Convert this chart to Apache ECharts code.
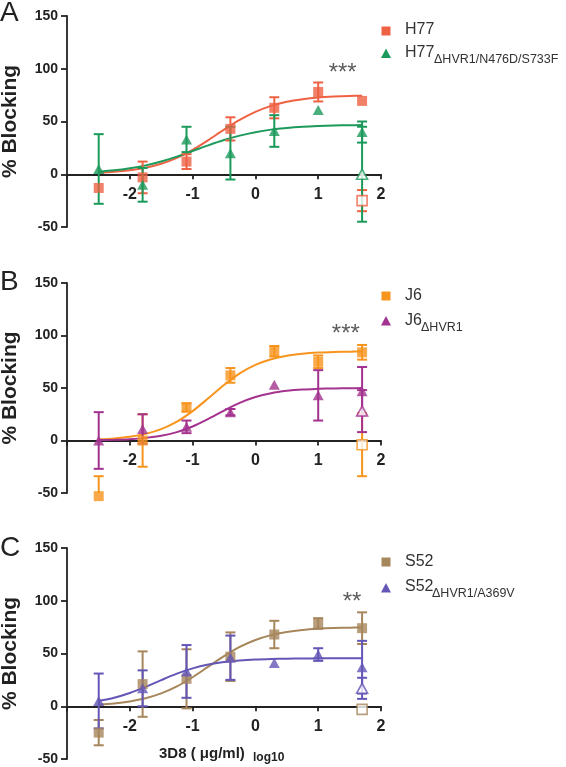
<!DOCTYPE html>
<html><head><meta charset="utf-8">
<script src="https://cdn.jsdelivr.net/npm/echarts@6/dist/echarts.min.js"></script>
<style>html,body{margin:0;padding:0;background:#fff}#c{width:566px;height:767px}</style>
</head><body><div id="c"></div>
<script>
// ---------- DATA ----------
const doseX = [-2.495, -1.796, -1.097, -0.398, 0.301, 1.0, 1.699];   // log10(µg/ml)
const curveX = [-2.5, -2.25, -2, -1.75, -1.5, -1.25, -1, -0.75, -0.5, -0.25, 0, 0.25, 0.5, 0.75, 1, 1.25, 1.5, 1.7];
const openX = [1.699];
const xTicks = [-3, -2, -1, 0, 1, 2];
const yTicks = [-50, 0, 50, 100, 150];

// Panel A
const h77Mean = [-13, -3, 12, 43, 63, 78, 69.5];
const h77Err  = [0, 15, 7, 11, 10, 9, 0];
const h77OpenMean = [-25];
const h77OpenErr  = [10];
const h77Fit = [1.4, 2.3, 3.8, 6.2, 10, 15.6, 23.1, 32.4, 42.3, 51.5, 59.1, 64.8, 68.7, 71.1, 72.7, 73.6, 74.2, 74.5];

const h77mMean = [5, -10, 33, 20, 41, 61, 40];
const h77mErr  = [33, 16, 12, 25, 15, 0, 10];
const h77mOpenMean = [0];
const h77mOpenErr  = [45];
const h77mFit = [2.4, 3.7, 5.7, 8.4, 12.1, 16.7, 22, 27.4, 32.4, 36.6, 39.9, 42.3, 43.9, 45, 45.7, 46.2, 46.5, 46.6];

// Panel B
const j6Mean = [-53, 0, 31.5, 62, 85, 75, 84];
const j6Err  = [19, 25, 4, 7, 5, 6, 7];
const j6OpenMean = [-4];
const j6OpenErr  = [30];
const j6Fit = [1.1, 2, 3.5, 6.3, 10.8, 17.9, 28, 40.2, 52.9, 63.9, 72, 77.4, 80.7, 82.6, 83.7, 84.3, 84.6, 84.7];

const j6mMean = [0, 11, 13, 27, 53, 43, 47];
const j6mErr  = [27, 14, 6, 3, 0, 24, 23];
const j6mOpenMean = [28];
const j6mOpenErr  = [20];
const j6mFit = [0.4, 0.7, 1.3, 2.5, 4.5, 8, 13.3, 20.5, 28.5, 35.8, 41.4, 45.1, 47.3, 48.6, 49.2, 49.6, 49.8, 49.9];

// Panel C
const s52Mean = [-25, 21, 26, 47, 68, 78.5, 74];
const s52Err  = [12, 31, 28, 23, 13, 5, 15];
const s52OpenMean = [-3];
const s52OpenErr  = [0];
const s52Fit = [1.6, 2.7, 4.6, 7.6, 12.2, 18.8, 27.5, 37.5, 47.5, 56.2, 62.8, 67.4, 70.4, 72.3, 73.4, 74.1, 74.5, 74.6];

const s52mMean = [5, 17, 33, 46, 41, 49, 37];
const s52mErr  = [26, 17, 25, 21, 0, 6, 25];
const s52mOpenMean = [17];
const s52mOpenErr  = [10];
const s52mFit = [5, 8.1, 12.6, 18.4, 24.8, 30.9, 35.9, 39.5, 41.9, 43.4, 44.3, 44.8, 45.1, 45.3, 45.4, 45.4, 45.5, 45.5];

// significance marks
const sigText = ['***', '***', '**'];
const sigX = [1.39, 1.44, 1.54];
const sigY = [96, 101, 98];

// ---------- STYLE ----------
const FONT = "'Liberation Sans', Arial, sans-serif";
const C = {
  h77: '#EE6243', h77m: '#1B9A5B',
  j6: '#F7941D', j6m: '#A3338F',
  s52: '#A6865B', s52m: '#6456B6'
};
const AXIS = '#222';

const grids = [
  {left: 67, top: 16, width: 314, height: 211, outerBoundsMode: 'none', containLabel: false},
  {left: 67, top: 283, width: 314, height: 210, outerBoundsMode: 'none', containLabel: false},
  {left: 67, top: 548, width: 314, height: 211, outerBoundsMode: 'none', containLabel: false}
];
const yMin = yTicks[0], yMax = yTicks[yTicks.length - 1];

// x axis sits on y = 0: shift it up from the grid bottom by the height of the negative range
const xAxes = grids.map((g, i) => ({
  gridIndex: i, type: 'value', position: 'bottom', min: xTicks[0], max: xTicks[xTicks.length - 1], interval: 1,
  offset: -g.height * (0 - yMin) / (yMax - yMin),
  axisLine: {show: true, onZero: false, lineStyle: {color: AXIS, width: 1.8}},
  axisTick: {show: true, length: 5, lineStyle: {color: AXIS, width: 1.8}},
  axisLabel: {margin: 12, fontSize: 16, fontWeight: 'bold', color: '#222', fontFamily: FONT,
    formatter: v => (v <= xTicks[0] ? '' : String(v))},
  splitLine: {show: false}
}));
const yAxes = grids.map((g, i) => ({
  gridIndex: i, type: 'value', min: yMin, max: yMax, interval: 50,
  name: '% Blocking', nameLocation: 'middle', nameGap: 46,
  nameTextStyle: {fontSize: 21, fontWeight: 'bold', color: '#222', fontFamily: FONT},
  axisLine: {show: true, onZero: false, lineStyle: {color: AXIS, width: 1.8}},
  axisTick: {show: true, length: 6, lineStyle: {color: AXIS, width: 1.8}},
  axisLabel: {margin: 9, fontSize: 14, fontWeight: 'bold', color: '#222', fontFamily: FONT},
  splitLine: {show: false}
}));

const series = [];
function zip(xs, ys) { return xs.map((x, i) => [x, ys[i]]); }
function zip3(xs, ys, es) { return xs.map((x, i) => [x, ys[i], es[i]]); }

function addCurve(gi, ys, color) {
  series.push({type: 'line', xAxisIndex: gi, yAxisIndex: gi, data: zip(curveX, ys),
    smooth: 0.3, symbol: 'none', lineStyle: {color, width: 2}, z: 2, silent: true});
}
function addErr(gi, xs, ys, es, color) {
  series.push({type: 'custom', xAxisIndex: gi, yAxisIndex: gi, data: zip3(xs, ys, es), z: 3, silent: true,
    renderItem: function (params, api) {
      const x = api.value(0), y = api.value(1), e = api.value(2);
      if (!e) return null;
      const lo = Math.max(y - e, yMin);           // bars are clipped at the axis minimum
      const t = api.coord([x, y + e]), b = api.coord([x, lo]);
      const w = 5, st = {stroke: color, lineWidth: 2};
      const ch = [
        {type: 'line', shape: {x1: t[0], y1: t[1], x2: b[0], y2: b[1]}, style: st},
        {type: 'line', shape: {x1: t[0] - w, y1: t[1], x2: t[0] + w, y2: t[1]}, style: st}
      ];
      if (y - e >= yMin) ch.push({type: 'line', shape: {x1: b[0] - w, y1: b[1], x2: b[0] + w, y2: b[1]}, style: st});
      return {type: 'group', children: ch};
    }});
}
function addPts(gi, name, xs, ys, symbol, color, open) {
  series.push({type: 'scatter', name, xAxisIndex: gi, yAxisIndex: gi, data: zip(xs, ys), clip: false,
    symbol, symbolSize: symbol === 'rect' ? 10 : [11, 10], z: 4, silent: true,
    itemStyle: open ? {color: '#fff', borderColor: color, borderWidth: 1.6} : {color}});
}
function addGroup(gi, name, mean, err, oMean, oErr, fit, symbol, color) {
  addCurve(gi, fit, color);
  addErr(gi, doseX, mean, err, color);
  addErr(gi, openX, oMean, oErr, color);
  addPts(gi, name, doseX, mean, symbol, color, false);
  addPts(gi, name + ' (excl)', openX, oMean, symbol, color, true);
}

addGroup(0, 'H77', h77Mean, h77Err, h77OpenMean, h77OpenErr, h77Fit, 'rect', C.h77);
addGroup(0, 'H77m', h77mMean, h77mErr, h77mOpenMean, h77mOpenErr, h77mFit, 'triangle', C.h77m);
addGroup(1, 'J6', j6Mean, j6Err, j6OpenMean, j6OpenErr, j6Fit, 'rect', C.j6);
addGroup(1, 'J6m', j6mMean, j6mErr, j6mOpenMean, j6mOpenErr, j6mFit, 'triangle', C.j6m);
addGroup(2, 'S52', s52Mean, s52Err, s52OpenMean, s52OpenErr, s52Fit, 'rect', C.s52);
addGroup(2, 'S52m', s52mMean, s52mErr, s52mOpenMean, s52mOpenErr, s52mFit, 'triangle', C.s52m);

sigText.forEach((t, i) => {
  series.push({type: 'scatter', xAxisIndex: i, yAxisIndex: i, data: [[sigX[i], sigY[i]]], symbolSize: 1,
    itemStyle: {color: 'rgba(0,0,0,0)'}, z: 5, silent: true,
    label: {show: true, position: 'inside', formatter: t, fontSize: 24, color: '#333', fontFamily: FONT}});
});

// ---------- LEGENDS / TEXT ----------
const graphic = [];
function letter(t, y) {
  graphic.push({type: 'text', x: 0, y, style: {text: t, fontSize: 28, fontFamily: FONT, fill: '#222', verticalAlign: 'middle'}});
}
letter('A', 13); letter('B', 282); letter('C', 548);

function legSquare(cy, color) {
  graphic.push({type: 'rect', shape: {x: 381.5, y: cy - 4.5, width: 9, height: 9}, style: {fill: color}});
}
function legTri(cy, color) {
  graphic.push({type: 'polygon', shape: {points: [[386, cy - 5], [381, cy + 4.5], [391, cy + 4.5]]}, style: {fill: color}});
}
function legText(cy, main, sub, subX) {
  graphic.push({type: 'text', x: 405, y: cy, style: {text: main, fontSize: 16, fontFamily: FONT, fill: '#333', verticalAlign: 'middle'}});
  if (sub) graphic.push({type: 'text', x: subX, y: cy + 7, style: {text: sub, fontSize: 12.5, fontFamily: FONT, fill: '#333', verticalAlign: 'middle'}});
}
legSquare(31, C.h77);  legText(30, 'H77');
legTri(53.5, C.h77m);  legText(52.5, 'H77', 'ΔHVR1/N476D/S733F', 434);
legSquare(296, C.j6);  legText(296, 'J6');
legTri(321, C.j6m);    legText(320.5, 'J6', 'ΔHVR1', 421);
legSquare(562, C.s52); legText(562, 'S52');
legTri(588, C.s52m);   legText(587, 'S52', 'ΔHVR1/A369V', 432);

graphic.push({type: 'text', x: 159, y: 753.5, style: {text: '3D8 ( μg/ml)', fontSize: 15, fontWeight: 'bold', fontFamily: FONT, fill: '#222', verticalAlign: 'middle'}});
graphic.push({type: 'text', x: 253, y: 757.5, style: {text: 'log10', fontSize: 12, fontWeight: 'bold', fontFamily: FONT, fill: '#222', verticalAlign: 'middle'}});

const chart = echarts.init(document.getElementById('c'), null, {renderer: 'canvas'});
chart.setOption({
  backgroundColor: '#fff',
  animation: false,
  grid: grids,
  xAxis: xAxes,
  yAxis: yAxes,
  series,
  graphic
});
</script></body></html>
